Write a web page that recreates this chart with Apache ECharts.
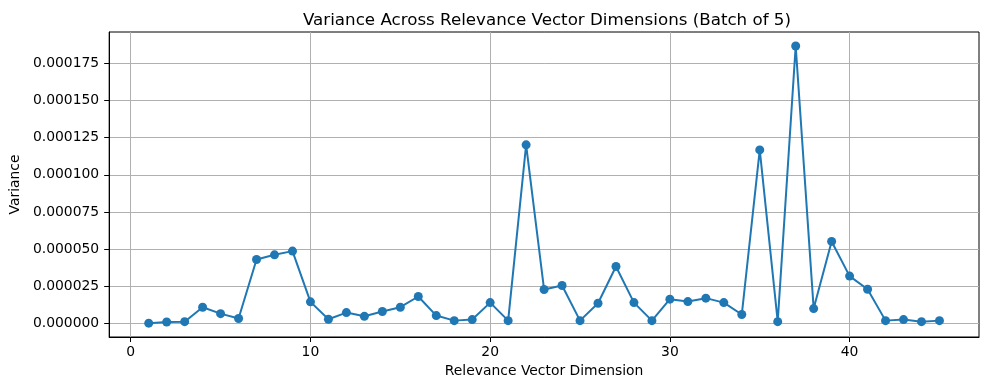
<!DOCTYPE html>
<html>
<head>
<meta charset="utf-8">
<script src="https://cdn.jsdelivr.net/npm/echarts@6/dist/echarts.min.js"></script>
<style>
  html, body { margin: 0; padding: 0; background: #fff; }
  #chart { width: 990px; height: 390px; }
</style>
</head>
<body>
<div id="chart"></div>
<script>
// dimensions 1..45
const dimensions = [
    1, 2, 3, 4, 5, 6, 7, 8, 9, 10, 11, 12, 13, 14, 15,
    16, 17, 18, 19, 20, 21, 22, 23, 24, 25, 26, 27, 28, 29, 30,
    31, 32, 33, 34, 35, 36, 37, 38, 39, 40, 41, 42, 43, 44, 45
];

// variance values
const variances = [
    0.0000003, 0.0000011, 0.0000013, 0.0000110, 0.0000067, 0.0000034, 0.0000431, 0.0000462, 0.0000487, 0.0000146,
    0.0000029, 0.0000074, 0.0000049, 0.0000081, 0.0000110, 0.0000182, 0.0000054, 0.0000020, 0.0000027, 0.0000141,
    0.0000020, 0.0001201, 0.0000229, 0.0000256, 0.0000020, 0.0000137, 0.0000384, 0.0000141, 0.0000020, 0.0000164,
    0.0000148, 0.0000171, 0.0000141, 0.0000061, 0.0001167, 0.0000013, 0.0001865, 0.0000101, 0.0000552, 0.0000319,
    0.0000231, 0.0000020, 0.0000027, 0.0000013, 0.0000020
];

const xTicks = [0, 10, 20, 30, 40];
const yTicks = [0, 0.000025, 0.00005, 0.000075, 0.0001, 0.000125, 0.00015, 0.000175];

const chart = echarts.init(document.getElementById('chart'));

const font = 'DejaVu Sans';

chart.setOption({
    animation: false,
    title: {
        text: 'Variance Across Relevance Vector Dimensions (Batch of 5)',
        left: 542,
        textAlign: 'center',
        top: 7,
        textStyle: { fontFamily: font, fontSize: 16.7, fontWeight: 'normal', color: '#000' }
    },
    grid: {
        left: 106,
        right: 11,
        top: 32,
        bottom: 53,
        show: true,
        borderColor: '#000',
        borderWidth: 1
    },
    xAxis: {
        type: 'value',
        min: -1.2,
        max: 47.2,
        name: 'Relevance Vector Dimension',
        nameLocation: 'middle',
        nameGap: 27,
        nameTextStyle: { fontFamily: font, fontSize: 13.9, color: '#000' },
        axisLine: { show: true, onZero: false, lineStyle: { color: '#000' } },
        axisTick: { show: true, inside: false, length: 5, customValues: xTicks, lineStyle: { color: '#000' } },
        axisLabel: { customValues: xTicks, margin: 8, fontFamily: font, fontSize: 13.9, color: '#000' },
        splitLine: { show: true, lineStyle: { color: '#b0b0b0', width: 1 } }
    },
    yAxis: {
        type: 'value',
        min: -0.000009,
        max: 0.0001959,
        name: 'Variance',
        nameLocation: 'middle',
        nameGap: 85,
        nameTextStyle: { fontFamily: font, fontSize: 13.9, color: '#000' },
        axisLine: { show: true, onZero: false, lineStyle: { color: '#000' } },
        axisTick: { show: true, inside: false, length: 5, customValues: yTicks, lineStyle: { color: '#000' } },
        axisLabel: {
            customValues: yTicks,
            margin: 10,
            fontFamily: font,
            fontSize: 13.9,
            color: '#000',
            formatter: v => v.toFixed(6)
        },
        splitLine: { show: true, lineStyle: { color: '#b0b0b0', width: 1 } }
    },
    series: [{
        type: 'line',
        data: dimensions.map((d, i) => [d, variances[i]]),
        symbol: 'circle',
        symbolSize: 9,
        itemStyle: { color: '#1f77b4' },
        lineStyle: { color: '#1f77b4', width: 2 }
    }]
});
</script>
</body>
</html>
